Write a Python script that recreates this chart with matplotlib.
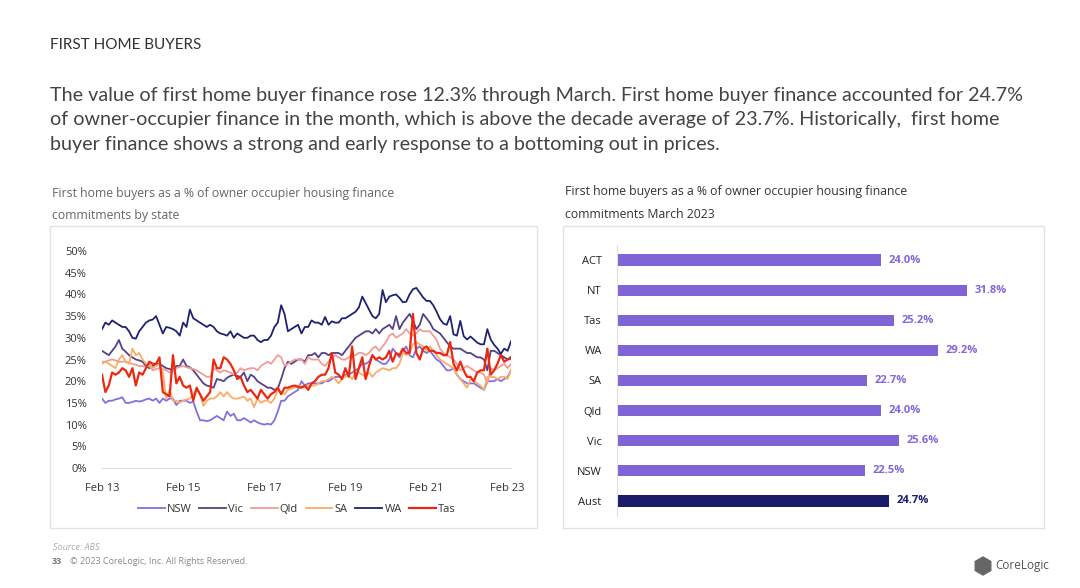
import matplotlib.pyplot as plt
from matplotlib.patches import Rectangle, Polygon
import numpy as np

plt.rcParams['font.family'] = ['Open Sans', 'DejaVu Sans']

# monthly series Feb 13 .. Mar 23 (% of owner occupier commitments)
nsw = [16.0, 15.0, 15.5, 15.5, 15.8, 16.0, 16.3, 15.0, 15.0, 15.2, 15.5, 15.3,
       15.5, 15.8, 16.0, 15.5, 16.0, 15.0, 16.0, 15.5, 16.0, 16.0, 14.5, 15.5,
       15.5, 15.5, 15.0, 15.3, 13.0, 11.0, 11.0, 10.8, 11.0, 11.5, 12.0, 11.5,
       11.0, 13.0, 12.0, 12.5, 11.0, 11.0, 11.5, 11.0, 10.5, 11.0, 10.5, 10.2,
       10.0, 10.2, 10.0, 11.0, 13.0, 15.5, 15.5, 16.5, 17.0, 17.5, 18.0, 20.0,
       19.0, 19.5, 19.5, 19.5, 19.5, 19.5, 20.0, 20.0, 20.5, 21.0, 21.0, 21.0,
       21.5, 21.5, 22.0, 22.5, 23.0, 24.0, 24.0, 24.5, 26.0, 25.0, 24.5, 24.0,
       24.0, 25.0, 27.5, 26.5, 25.5, 27.0, 28.0, 26.0, 25.5, 27.5, 28.0, 27.0,
       26.5, 27.0, 26.0, 25.0, 24.5, 23.5, 22.5, 22.5, 23.0, 21.5, 20.5, 20.0,
       19.5, 19.5, 19.5, 19.0, 18.5, 18.0, 20.0, 20.0, 20.0, 20.5, 20.0, 20.5,
       21.0, 22.5]
vic = [27.0, 26.5, 26.0, 27.0, 28.0, 29.5, 27.5, 26.8, 26.0, 25.5, 25.0, 24.8,
       24.5, 23.5, 23.0, 23.5, 24.0, 24.0, 23.5, 23.0, 22.8, 22.5, 23.5, 23.5,
       25.0, 23.5, 23.2, 22.5, 21.5, 20.5, 19.5, 19.0, 18.8, 18.5, 20.5, 20.3,
       20.0, 20.8, 21.2, 21.5, 21.2, 21.0, 22.0, 20.0, 21.5, 21.0, 20.0, 19.5,
       19.0, 18.5, 18.5, 18.0, 18.3, 20.5, 23.0, 24.5, 24.0, 24.5, 25.0, 25.0,
       24.5, 26.0, 26.0, 26.5, 25.5, 26.5, 26.5, 26.0, 26.5, 26.5, 26.5, 26.0,
       27.0, 28.0, 29.0, 30.0, 30.5, 31.0, 31.5, 31.5, 31.0, 32.0, 31.0, 32.0,
       32.5, 33.0, 32.0, 35.0, 32.0, 33.5, 34.5, 35.5, 34.0, 32.0, 33.0, 35.5,
       34.5, 33.5, 32.0, 31.5, 31.0, 30.0, 29.0, 28.0, 27.5, 27.5, 27.5, 27.0,
       26.5, 26.5, 26.0, 25.5, 25.5, 25.0, 22.5, 27.0, 27.0, 26.5, 26.0, 25.5,
       25.0, 25.6]
qld = [24.5, 24.5, 24.8, 25.0, 24.8, 24.5, 24.5, 24.5, 24.2, 24.0, 23.8, 23.5,
       23.5, 23.3, 23.5, 22.5, 22.8, 23.0, 22.8, 22.5, 22.0, 22.5, 23.0, 23.3,
       23.5, 23.2, 23.0, 22.8, 22.5, 22.0, 21.5, 21.0, 21.0, 23.0, 22.5, 22.0,
       22.5, 22.3, 22.0, 21.5, 22.0, 23.0, 22.5, 22.8, 23.0, 23.0, 22.5, 23.5,
       24.0, 24.5, 24.0, 25.0, 26.0, 25.5, 23.5, 24.0, 24.5, 25.0, 25.0, 25.0,
       24.0, 25.5, 25.0, 25.0, 25.0, 24.0, 23.5, 24.5, 25.5, 26.0, 25.5, 25.0,
       25.0, 25.5, 26.0, 26.0, 26.5, 26.5, 26.0, 26.5, 27.5, 28.0, 27.0, 28.0,
       29.0, 30.5, 31.0, 30.0, 30.5, 31.0, 32.0, 31.0, 30.5, 31.0, 32.0, 31.5,
       31.5, 31.5, 30.5, 29.5, 27.5, 26.5, 26.0, 25.5, 25.0, 24.0, 22.5, 23.0,
       23.5, 23.0, 22.5, 22.0, 22.0, 21.5, 19.5, 23.0, 22.5, 23.0, 23.5, 24.0,
       23.0, 24.0]
sa = [24.0, 24.5, 24.0, 23.5, 23.0, 25.0, 26.0, 24.5, 24.0, 27.5, 26.0, 26.5,
      25.0, 24.0, 24.0, 23.0, 23.5, 24.0, 22.0, 16.0, 18.0, 15.5, 15.5, 15.0,
      15.5, 15.8, 16.0, 17.0, 18.0, 17.0, 14.3, 15.5, 16.0, 16.0, 16.5, 17.5,
      16.5, 17.5, 16.5, 16.0, 16.0, 16.2, 16.5, 15.5, 16.0, 14.0, 16.0, 15.0,
      15.5, 15.5, 15.0, 16.0, 18.0, 17.5, 17.0, 18.0, 18.3, 18.5, 19.0, 18.8,
      18.5, 19.0, 19.0, 19.0, 19.5, 20.0, 20.0, 20.5, 21.0, 20.5, 19.5, 20.5,
      21.0, 21.5, 20.5, 22.0, 22.0, 21.5, 21.0, 22.0, 21.0, 22.0, 22.5, 23.0,
      22.8, 22.5, 23.0, 23.0, 24.0, 26.5, 26.0, 26.5, 28.5, 29.0, 28.5, 28.0,
      27.0, 28.0, 27.0, 26.0, 25.0, 24.5, 24.0, 23.5, 23.0, 21.5, 20.5, 19.5,
      18.5, 20.5, 20.0, 19.5, 19.0, 18.0, 21.0, 21.0, 21.0, 20.5, 21.0, 21.0,
      20.5, 22.7]
wa = [32.0, 33.5, 33.0, 34.0, 33.5, 33.0, 32.5, 32.5, 31.5, 30.0, 29.8, 31.5,
      32.5, 33.5, 34.0, 34.2, 35.0, 33.0, 31.0, 32.5, 32.3, 32.0, 31.5, 30.5,
      33.5, 32.5, 36.5, 34.5, 34.0, 33.5, 33.0, 32.5, 33.0, 32.5, 31.5, 31.0,
      30.8, 30.5, 31.5, 30.0, 31.0, 30.5, 30.0, 30.0, 30.5, 30.5, 29.5, 29.0,
      29.5, 29.5, 30.5, 32.5, 33.5, 37.5, 35.5, 31.5, 32.0, 32.5, 33.0, 31.0,
      32.5, 32.5, 34.0, 33.5, 33.5, 33.0, 34.8, 33.0, 33.8, 33.5, 33.5, 34.5,
      34.5, 35.0, 35.5, 36.0, 37.0, 39.5, 38.0, 36.5, 35.0, 34.5, 35.5, 41.0,
      38.2, 39.5, 39.8, 40.0, 39.2, 38.2, 38.3, 40.0, 41.2, 41.5, 40.4, 39.3,
      38.5, 38.5, 37.5, 36.0, 34.3, 33.3, 33.0, 35.0, 30.8, 30.5, 33.9, 30.4,
      29.6, 30.3, 29.6, 28.9, 28.5, 28.5, 32.0, 29.6, 28.4, 27.5, 26.3, 27.5,
      27.0, 29.2]
tas = [21.5, 17.5, 19.0, 22.0, 21.5, 22.0, 23.0, 22.5, 21.0, 23.0, 19.0, 22.0,
       21.5, 23.0, 24.5, 24.0, 24.0, 25.5, 17.5, 17.0, 16.5, 26.0, 19.5, 21.0,
       19.0, 18.5, 19.0, 15.5, 18.5, 17.0, 15.5, 16.5, 17.5, 25.0, 23.0, 23.0,
       25.5, 25.0, 24.0, 22.5, 20.5, 21.0, 19.0, 17.5, 18.0, 17.0, 16.0, 18.0,
       17.0, 16.0, 17.0, 17.5, 18.5, 17.0, 18.5, 18.5, 18.8, 19.0, 18.7, 18.5,
       19.0, 18.0, 19.5, 20.0, 21.0, 21.5, 21.5, 23.0, 26.5, 22.0, 21.5, 20.5,
       23.0, 21.0, 28.0, 20.5, 23.0, 25.5, 20.5, 23.5, 26.0, 25.0, 25.5, 25.0,
       25.5, 27.0, 24.5, 26.5, 26.0, 27.5, 26.5, 26.5, 35.5, 26.5, 25.0, 27.5,
       28.0, 27.0, 27.0, 26.5, 26.5, 26.0, 26.0, 29.0, 24.0, 22.5, 24.5, 22.5,
       21.0, 21.0, 20.0, 22.0, 22.5, 22.5, 27.5, 21.5, 22.5, 24.0, 26.0, 24.5,
       25.0, 25.2]

series_names = ['NSW', 'Vic', 'Qld', 'SA', 'WA', 'Tas']
series_colors = ['#8270e0', '#524387', '#f29c95', '#f8ad68', '#1f2270', '#ec2810']
tick_labels = ['Feb 13', 'Feb 15', 'Feb 17', 'Feb 19', 'Feb 21', 'Feb 23']

states = ['ACT', 'NT', 'Tas', 'WA', 'SA', 'Qld', 'Vic', 'NSW', 'Aust']
march_share = [24.0, 31.8, 25.2, 29.2, 22.7, 24.0, 25.6, 22.5, 24.7]

W, H = 1080, 588
fig = plt.figure(figsize=(W / 100, H / 100), dpi=100)


def fx(px):
    return px / W


def fy(py):
    return 1 - py / H


# header text
fig.text(fx(50), fy(45), 'FIRST HOME BUYERS', fontsize=11, color='#333333',
         va='center', ha='left', family='Lato')
para = ['The value of first home buyer finance rose 12.3% through March. First home buyer finance accounted for 24.7%',
        'of owner-occupier finance in the month, which is above the decade average of 23.7%. Historically,  first home',
        'buyer finance shows a strong and early response to a bottoming out in prices.']
for i, line in enumerate(para):
    fig.text(fx(50), fy(96 + 24 * i), line, fontsize=14.2, color='#444444',
             va='center', ha='left', family='Lato')

# panel titles and boxes
fig.text(fx(52), fy(194), 'First home buyers as a % of owner occupier housing finance',
         fontsize=8.8, color='#666666', va='center')
fig.text(fx(52), fy(215), 'commitments by state', fontsize=8.8, color='#666666', va='center')
fig.text(fx(565), fy(192), 'First home buyers as a % of owner occupier housing finance',
         fontsize=8.8, color='#333333', va='center')
fig.text(fx(565), fy(215), 'commitments March 2023', fontsize=8.8, color='#333333', va='center')

for x0, x1 in [(50, 537), (563, 1044)]:
    fig.patches.append(Rectangle((fx(x0), fy(528)), fx(x1 - x0), (528 - 226) / H,
                                 transform=fig.transFigure, fill=False,
                                 edgecolor='#e3e3e3', lw=1))

# line chart
ax1 = fig.add_axes([fx(102), fy(468), fx(409), (468 - 251) / H])
months = np.arange(len(nsw))
for name, vals, col in zip(series_names, [nsw, vic, qld, sa, wa, tas], series_colors):
    lw = 1.6 if name == 'Tas' else 1.3
    ax1.plot(months, vals, color=col, lw=lw, label=name)
ax1.set_xlim(0, 121)
ax1.set_ylim(0, 50)
ax1.set_yticks(range(0, 51, 5))
ax1.set_yticklabels(['%d%%' % v for v in range(0, 51, 5)])
ax1.set_xticks(range(0, 121, 24))
ax1.set_xticklabels(tick_labels)
ax1.tick_params(length=0, labelsize=8, colors='#333333')
ax1.tick_params(axis='x', pad=11)
ax1.tick_params(axis='y', pad=11)
for s in ['top', 'right', 'left']:
    ax1.spines[s].set_visible(False)
ax1.spines['bottom'].set_color('#dddddd')
ax1.legend(loc='center', bbox_to_anchor=(fx(297), fy(509)),
           bbox_transform=fig.transFigure, ncol=6, frameon=False,
           fontsize=8, handlelength=2.4, handletextpad=0.2, columnspacing=0.7,
           labelcolor='#333333')

# bar chart
ax2 = fig.add_axes([fx(617), fy(516), fx(418), (516 - 245) / H])
ypos = np.arange(len(states))
bar_cols = ['#8064d6'] * (len(states) - 1) + ['#1b1a6b']
ax2.barh(ypos, march_share, height=0.37, color=bar_cols)
ax2.set_ylim(len(states) - 0.5, -0.5)
ax2.set_xlim(0, 38)
ax2.set_yticks(ypos)
ax2.set_yticklabels(states)
ax2.set_xticks([])
ax2.tick_params(length=0, labelsize=8, colors='#222222', pad=11)
for s in ['top', 'right', 'bottom']:
    ax2.spines[s].set_visible(False)
ax2.spines['left'].set_color('#e0e0e0')
for y, v, c in zip(ypos, march_share, bar_cols):
    ax2.text(v + 0.7, y, '%.1f%%' % v, va='center', ha='left', fontsize=8,
             fontweight='bold', color=c if c != '#8064d6' else '#8466dc')

# footer
fig.text(fx(53), fy(547), 'Source: ABS', fontsize=6.5, style='italic', color='#aaaaaa', va='center')
fig.text(fx(52), fy(561), '33', fontsize=6.5, fontweight='bold', color='#777777', va='center')
fig.text(fx(70), fy(561), '\u00a9 2023 CoreLogic, Inc. All Rights Reserved.', fontsize=6.5,
         color='#888888', va='center')
# CoreLogic logo mark and name
cx, cy = 983, 566
hexpts = [(cx + 9 * np.cos(a), cy + 9 * np.sin(a)) for a in np.radians(np.arange(30, 390, 60))]
fig.patches.append(Polygon([(fx(px), fy(py)) for px, py in hexpts], closed=True,
                           transform=fig.transFigure, color='#666666'))
fig.text(fx(995), fy(566), 'CoreLogic', fontsize=8.5, color='#555555', va='center')

fig.savefig('out.png', dpi=100, facecolor='white')
